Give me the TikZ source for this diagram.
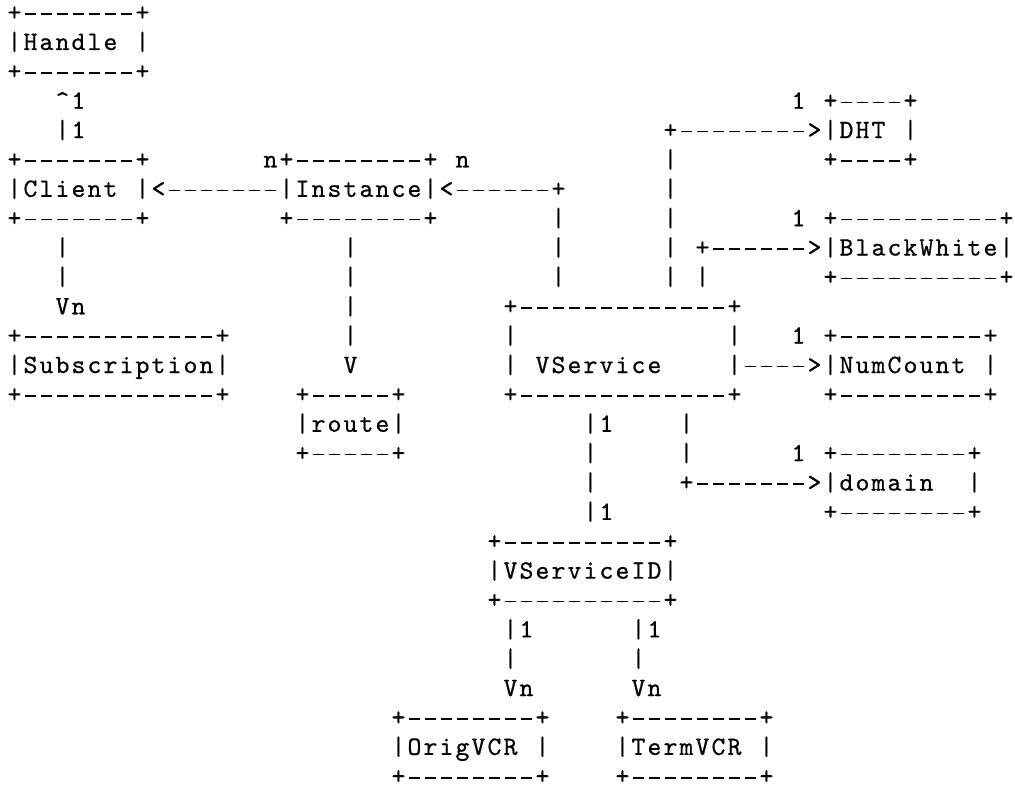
\documentclass[tikz,border=0pt]{standalone}
% Typewriter face, a touch heavier than the regular cut
\font\asciifont="[lmmono10-regular.otf]:embolden=0.6" at 26.5pt
% Character-cell drawing: every glyph sits centred in a fixed-width cell
\newlength\cellw
\setlength\cellw{16pt}
\newcommand\rowend{\rowend}
\newcommand\rowcells[1]{\rowcellsA#1\rowend}
\newcommand\rowcellsA[1]{\ifx#1\rowend\else\cellglyph{#1}\expandafter\rowcellsA\fi}
% a hyphen is drawn as a short bar so that runs of them read as dashed lines
\newcommand\cellglyph[1]{\ifx-#1\makebox[\cellw][c]{\rule[5.7pt]{10.5pt}{1.5pt}}\else\makebox[\cellw][c]{#1}\fi}
\tikzset{asciitext/.style={anchor=base west, inner sep=0pt, outer sep=0pt,
  font=\asciifont}}
% \chunk{name}{row}{column}{characters}
\newcommand\chunk[4]{\node[asciitext] (#1) at ({6.5+16*(#3)},{20.6+29.37*(#2)}) {\rowcells{#4}};}
\begin{document}
\begin{tikzpicture}[x=1pt,y=-1pt]
\useasboundingbox (0,0) rectangle (1015,790);
% Handle
\chunk{handleT}{0}{0}{+-------+}
\chunk{handle}{1}{0}{|Handle~|}
\chunk{handleB}{2}{0}{+-------+}
\chunk{hcA}{3}{3}{\textasciicircum 1}
\chunk{hcB}{4}{3}{|1}
% DHT
\chunk{dhtT}{3}{49}{1~+----+}
\chunk{dht}{4}{41}{+-------->|DHT~|}
\chunk{dhtL}{5}{41}{|}
\chunk{dhtB}{5}{51}{+----+}
% Client and Instance
\chunk{clientT}{5}{0}{+-------+}
\chunk{instT}{5}{16}{n+--------+~n}
\chunk{client}{6}{0}{|Client~|<-------|Instance|<------+}
\chunk{dhtLb}{6}{41}{|}
\chunk{clientB}{7}{0}{+-------+}
\chunk{instB}{7}{17}{+--------+}
\chunk{isA}{7}{34}{|}
\chunk{dhtLc}{7}{41}{|}
% BlackWhite
\chunk{bwT}{7}{49}{1~+----------+}
\chunk{csA}{8}{3}{|}
\chunk{irA}{8}{21}{|}
\chunk{isB}{8}{34}{|}
\chunk{dhtLd}{8}{41}{|}
\chunk{bw}{8}{43}{+------>|BlackWhite|}
\chunk{csB}{9}{3}{|}
\chunk{irB}{9}{21}{|}
\chunk{isC}{9}{34}{|}
\chunk{dhtLe}{9}{41}{|}
\chunk{bwL}{9}{43}{|}
\chunk{bwB}{9}{51}{+----------+}
% Subscription, route, VService, NumCount
\chunk{csC}{10}{3}{Vn}
\chunk{irC}{10}{21}{|}
\chunk{vsT}{10}{31}{+-------------+}
\chunk{subT}{11}{0}{+------------+}
\chunk{irD}{11}{21}{|}
\chunk{vsL}{11}{31}{|}
\chunk{vsR}{11}{45}{|}
\chunk{ncT}{11}{49}{1~+---------+}
\chunk{sub}{12}{0}{|Subscription|}
\chunk{irE}{12}{21}{V}
\chunk{vs}{12}{31}{|~VService~~~~|---->|NumCount~|}
\chunk{subB}{13}{0}{+------------+}
\chunk{routeT}{13}{18}{+-----+}
\chunk{vsB}{13}{31}{+-------------+}
\chunk{ncB}{13}{51}{+---------+}
\chunk{route}{14}{18}{|route|}
\chunk{viA}{14}{36}{|1}
\chunk{vdA}{14}{42}{|}
\chunk{routeB}{15}{18}{+-----+}
\chunk{viB}{15}{36}{|}
\chunk{vdB}{15}{42}{|}
% domain
\chunk{domT}{15}{49}{1~+--------+}
\chunk{viC}{16}{36}{|}
\chunk{dom}{16}{42}{+------->|domain~~|}
\chunk{viD}{17}{36}{|1}
\chunk{domB}{17}{51}{+--------+}
% VServiceID
\chunk{vidT}{18}{30}{+----------+}
\chunk{vid}{19}{30}{|VServiceID|}
\chunk{vidB}{20}{30}{+----------+}
\chunk{voA}{21}{31}{|1}
\chunk{vtA}{21}{39}{|1}
\chunk{voB}{22}{31}{|}
\chunk{vtB}{22}{39}{|}
\chunk{voC}{23}{31}{Vn}
\chunk{vtC}{23}{39}{Vn}
% OrigVCR and TermVCR
\chunk{origT}{24}{24}{+--------+}
\chunk{termT}{24}{38}{+--------+}
\chunk{orig}{25}{24}{|OrigVCR~|}
\chunk{term}{25}{38}{|TermVCR~|}
\chunk{origB}{26}{24}{+--------+}
\chunk{termB}{26}{38}{+--------+}
\end{tikzpicture}
\end{document}
